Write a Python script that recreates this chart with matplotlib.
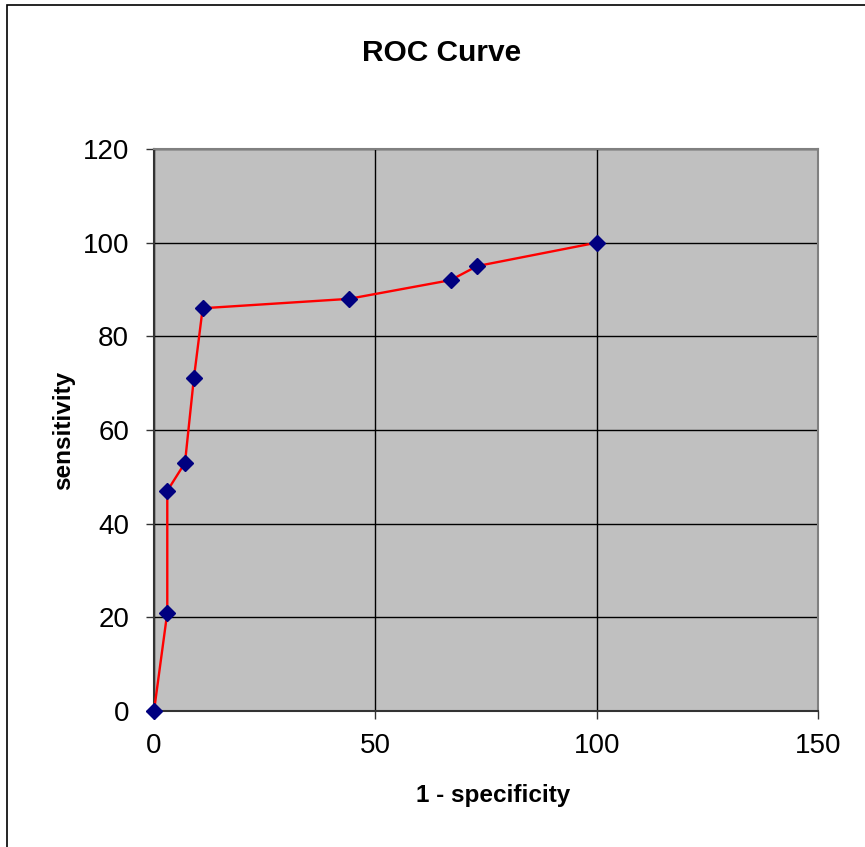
import matplotlib
matplotlib.use("Agg")
import matplotlib.pyplot as plt
from matplotlib.patches import Rectangle

plt.rcParams['font.family'] = ['Liberation Sans', 'DejaVu Sans']

# ROC points
fpr = [0, 3, 3, 7, 9, 11, 44, 67, 73, 100]
sens = [0, 21, 47, 53, 71, 86, 88, 92, 95, 100]
xticks = [0, 50, 100, 150]
yticks = [0, 20, 40, 60, 80, 100, 120]

fig = plt.figure(figsize=(8.65, 8.47), dpi=100)
fig.patch.set_facecolor("white")
# outer chart frame (left / top edges visible)
fig.add_artist(Rectangle((7 / 865, -0.1), 1.2, 1.1 - 5 / 847,
                         transform=fig.transFigure, fill=False,
                         edgecolor="black", linewidth=1.2, clip_on=False))

ax = fig.add_axes([154 / 865, 1 - 711 / 847, 664 / 865, 562 / 847])
ax.set_facecolor("#c0c0c0")

ax.plot(fpr, sens, color="red", linewidth=1.7, zorder=3, clip_on=False)
ax.plot(fpr, sens, linestyle="none", marker="D", markersize=8,
        markerfacecolor="#000080", markeredgecolor="#000080", zorder=4,
        clip_on=False)

ax.set_xlim(0, 150)
ax.set_ylim(0, 120)
ax.set_xticks(xticks)
ax.set_yticks(yticks)
ax.grid(True, color="black", linewidth=1)
ax.set_axisbelow(True)

for side in ["top", "right"]:
    ax.spines[side].set_color("#808080")
    ax.spines[side].set_linewidth(1.5)
for side in ["left", "bottom"]:
    ax.spines[side].set_color("#333333")
    ax.spines[side].set_linewidth(1.5)

ax.tick_params(axis="both", direction="out", length=6, width=1,
               color="#333333", labelsize=20)
ax.tick_params(axis="y", pad=12)
ax.tick_params(axis="x", pad=10)

ax.set_xlabel("1 - specificity", fontsize=17.5, fontweight="bold", labelpad=18)
ax.xaxis.label.set_x(0.51)
ax.set_ylabel("sensitivity", fontsize=17.5, fontweight="bold", labelpad=5)
fig.text(442 / 865, 1 - 53 / 847, "ROC Curve", ha="center", va="center",
         fontsize=21.5, fontweight="bold")

fig.savefig("out.png", dpi=100)
